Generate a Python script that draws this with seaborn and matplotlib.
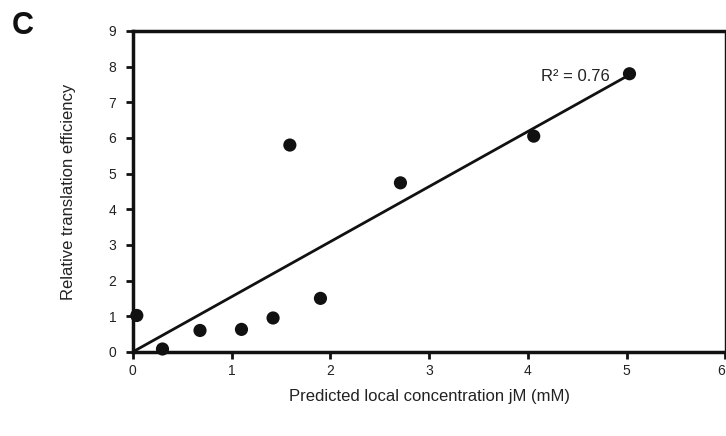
import numpy as np
import pandas as pd
import matplotlib
matplotlib.use("Agg")
import matplotlib.pyplot as plt
import seaborn as sns

# data
conc_mM = [0.04, 0.30, 0.68, 1.10, 1.42, 1.59, 1.90, 2.71, 4.06, 5.03]
rel_te = [1.02, 0.08, 0.60, 0.63, 0.95, 5.80, 1.50, 4.74, 6.05, 7.80]
x_ticks = [0, 1, 2, 3, 4, 5, 6]
y_ticks = [0, 1, 2, 3, 4, 5, 6, 7, 8, 9]
r2_label = "R\u00b2 = 0.76"

df = pd.DataFrame({"conc": conc_mM, "te": rel_te})

sns.set_theme(style="white")
plt.rcParams["font.family"] = ["Liberation Sans", "DejaVu Sans"]

fig = plt.figure(figsize=(7.26, 4.36), dpi=100)
ax = fig.add_axes([0.183, 0.193, 0.816, 0.736])

# linear trend forced through the origin
xv = df["conc"].to_numpy()
slope = np.sum(xv * df["te"].to_numpy()) / np.sum(xv * xv)
line_x = np.array([0, xv.max()])
ax.plot(line_x, slope * line_x, color="#111111", lw=2, zorder=2)

sns.scatterplot(data=df, x="conc", y="te", ax=ax, color="#111111",
                s=90, edgecolor="none", zorder=3, clip_on=False)

ax.set_xlim(0, 6)
ax.set_ylim(0, 9)
ax.set_xticks(x_ticks)
ax.set_yticks(y_ticks)
ax.tick_params(axis="both", direction="out", length=5, width=2, labelsize=10,
               color="#111111", labelcolor="#222222", bottom=True, left=True)
ax.tick_params(axis="x", pad=4)
ax.tick_params(axis="y", pad=7)
ax.xaxis.get_majorticklabels()[-1].set_horizontalalignment("right")

for side in ["left", "bottom", "top"]:
    ax.spines[side].set_linewidth(2.5)
    ax.spines[side].set_color("#111111")
ax.spines["right"].set_linewidth(1.0)
ax.spines["right"].set_color("#111111")

ax.set_xlabel("Predicted local concentration jM (mM)", fontsize=12,
              color="#222222", labelpad=8)
ax.set_ylabel("Relative translation efficiency", fontsize=12,
              color="#222222", labelpad=23)

ax.text(4.83, 7.72, r2_label, ha="right", va="center", fontsize=12,
        color="#222222")
fig.text(0.016, 0.94, "C", fontsize=22, fontweight="bold", va="center",
         color="#111111")

fig.savefig("out.png", dpi=100)
